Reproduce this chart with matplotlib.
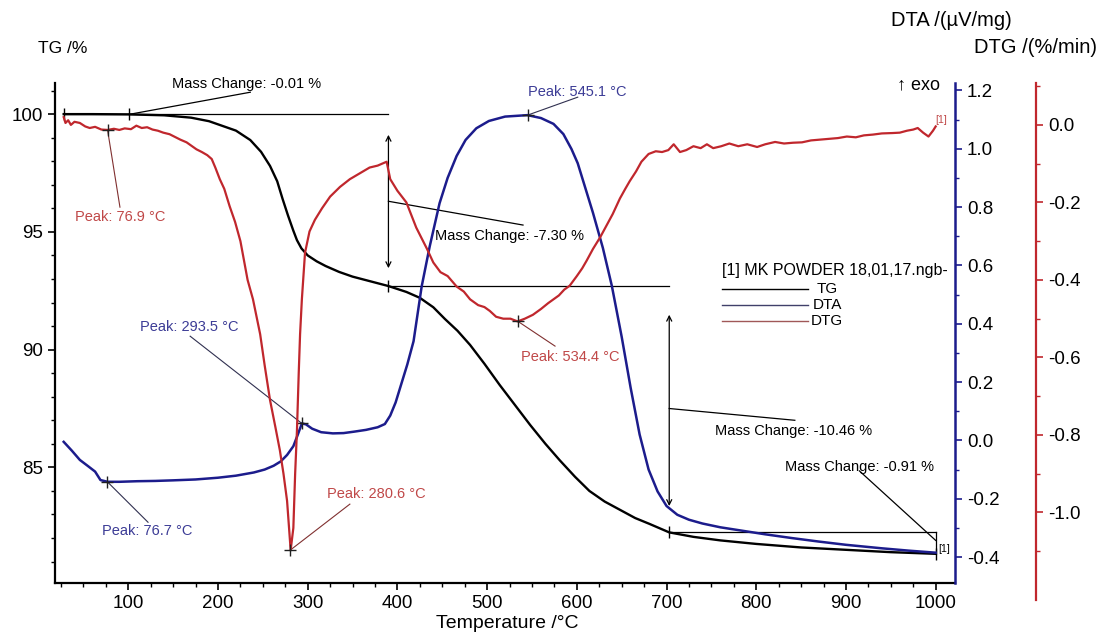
import numpy as np
import matplotlib
matplotlib.use("Agg")
import matplotlib.pyplot as plt
from matplotlib.ticker import MultipleLocator

plt.rcParams['font.family'] = ['Liberation Sans', 'DejaVu Sans']

# TG curve (mass %)
tg_temp = [28, 60, 100, 140, 170, 190, 205, 220, 236, 248, 258, 266, 272, 278, 284, 288, 293,
           300, 310, 320, 335, 350, 370, 390, 410, 425, 440, 453, 467, 481, 497, 514, 531, 548,
           565, 581, 598, 614, 631, 648, 665, 681, 703, 730, 760, 800, 850, 900, 950, 1000]
tg_mass = [100.0, 100.0, 99.99, 99.95, 99.85, 99.7, 99.5, 99.3, 98.9, 98.4, 97.8, 97.15, 96.4,
           95.7, 95.05, 94.65, 94.3, 94.0, 93.75, 93.55, 93.3, 93.1, 92.9, 92.7, 92.45, 92.2, 91.8,
           91.3, 90.8, 90.2, 89.4, 88.5, 87.65, 86.8, 86.0, 85.3, 84.6, 84.0, 83.55, 83.2, 82.85,
           82.6, 82.24, 82.05, 81.9, 81.75, 81.6, 81.5, 81.4, 81.33]

# DTA curve (uV/mg)
dta_temp = [28, 37, 46, 55, 63, 69, 77, 90, 110, 130, 150, 175, 200, 220, 240, 252, 262, 270,
            277, 284, 289, 293.5, 298, 305, 315, 328, 340, 352, 365, 378, 386, 392, 398, 404,
            411, 418, 427, 436, 447, 456, 466, 476, 488, 502, 520, 545, 560, 574, 585, 594, 601,
            607, 618, 629, 639, 650, 660, 670, 680, 690, 700, 712, 725, 740, 760, 785, 810, 840,
            870, 900, 940, 970, 1000]
dta_signal = [-0.005, -0.035, -0.067, -0.088, -0.107, -0.136, -0.142, -0.142, -0.14, -0.139,
              -0.137, -0.134, -0.128, -0.121, -0.11, -0.1, -0.087, -0.072, -0.05, -0.02, 0.02,
              0.058, 0.055, 0.04, 0.028, 0.024, 0.025, 0.03, 0.036, 0.045, 0.056, 0.085, 0.13,
              0.19, 0.26, 0.34, 0.527, 0.665, 0.813, 0.9, 0.975, 1.03, 1.07, 1.095, 1.11, 1.115,
              1.105, 1.085, 1.05, 0.999, 0.95, 0.89, 0.78, 0.66, 0.53, 0.355, 0.18, 0.02, -0.1,
              -0.175, -0.225, -0.255, -0.272, -0.285, -0.298, -0.31, -0.322, -0.335, -0.347,
              -0.358, -0.37, -0.378, -0.385]

# DTG curve (%/min)
dtg_temp = [28, 30, 33, 36, 40, 46, 52, 57, 63, 70, 77, 84, 90, 96, 103, 109, 115, 121, 127, 133,
            139, 146, 152, 158, 165, 171, 176, 182, 188, 193, 197, 202, 207, 213, 219, 225, 233,
            239, 247, 252, 258, 264, 269, 273, 277, 281, 284, 286, 288, 290, 291.5, 293.5, 297,
            302, 308, 316, 325, 336, 347, 358, 369, 378, 388, 392, 400, 410, 421, 433, 440, 448,
            456, 466, 474, 481, 490, 497, 503, 510, 518, 526, 534, 542, 551, 560, 568, 574, 580,
            586, 592, 600, 606, 611, 618, 626, 633, 640, 648, 654, 659, 666, 672, 680, 688, 695,
            702, 708, 715, 722, 730, 738, 745, 752, 761, 770, 780, 790, 801, 810, 821, 831, 841,
            851, 861, 871, 881, 891, 901, 911, 920, 930, 940, 952, 960, 968, 975, 980, 986, 992,
            997, 1000]
dtg_rate = [0.02, 0.005, 0.012, 0.0, 0.008, 0.005, -0.004, -0.008, -0.005, -0.012, -0.013, -0.01,
            -0.013, -0.009, -0.011, -0.002, -0.008, -0.006, -0.012, -0.015, -0.02, -0.024, -0.031,
            -0.038, -0.045, -0.055, -0.063, -0.07, -0.078, -0.088, -0.11, -0.14, -0.165, -0.21,
            -0.25, -0.3, -0.4, -0.45, -0.54, -0.62, -0.71, -0.78, -0.84, -0.9, -0.97, -1.097,
            -1.04, -0.9, -0.79, -0.64, -0.54, -0.45, -0.33, -0.275, -0.245, -0.215, -0.185, -0.16,
            -0.14, -0.125, -0.11, -0.105, -0.095, -0.14, -0.17, -0.2, -0.265, -0.32, -0.355, -0.38,
            -0.39, -0.417, -0.43, -0.45, -0.465, -0.47, -0.48, -0.495, -0.5, -0.5, -0.507, -0.5,
            -0.49, -0.475, -0.46, -0.45, -0.44, -0.425, -0.415, -0.39, -0.37, -0.35, -0.32, -0.29,
            -0.26, -0.23, -0.19, -0.165, -0.145, -0.12, -0.095, -0.075, -0.068, -0.07, -0.065,
            -0.05, -0.07, -0.065, -0.055, -0.06, -0.05, -0.06, -0.055, -0.048, -0.055, -0.05,
            -0.057, -0.05, -0.044, -0.048, -0.046, -0.045, -0.04, -0.038, -0.036, -0.034, -0.03,
            -0.032, -0.027, -0.025, -0.022, -0.021, -0.02, -0.015, -0.012, -0.008, -0.02, -0.03,
            -0.015, -0.004]

dta_peak_temp = [76.7, 293.5, 545.1]
dta_peak_val = [-0.142, 0.058, 1.115]
dtg_peak_temp = [76.9, 280.6, 534.4]
dtg_peak_val = [-0.013, -1.097, -0.507]

# mass-change steps
step_temp = [28, 101, 390, 703, 1000]
step_mass = [100.0, 99.99, 92.70, 82.24, 81.33]
step_labels = ['-0.01', '-7.30', '-10.46', '-0.91']

black = '#000000'
navy = '#1c1c8c'
red = '#c0272d'
blue_txt = '#3c3c96'
red_txt = '#c04848'


def fmt1(v, p):
    if abs(v) < 1e-9:
        v = 0.0
    return f'{v:.1f}'


fig = plt.figure(figsize=(11.01, 6.32), dpi=100)
ax = fig.add_axes([0.04995, 0.0775, 0.8174, 0.7911])
ax2 = ax.twinx()
ax3 = ax.twinx()

ax.set_xlim(18.3, 1021.5)
ax.set_ylim(80.09, 101.32)
ax2.set_ylim(-0.489, 1.225)
ax3.set_ylim(-1.182, 0.108)

ax.plot(tg_temp, tg_mass, color=black, lw=1.7, zorder=3)
ax2.plot(dta_temp, dta_signal, color=navy, lw=1.8, zorder=3)
ax3.plot(dtg_temp, dtg_rate, color=red, lw=1.6, zorder=3)

# spines
for s in ['top', 'right']:
    ax.spines[s].set_visible(False)
for s in ['top', 'left', 'bottom']:
    ax2.spines[s].set_visible(False)
    ax3.spines[s].set_visible(False)
ax.spines['left'].set_linewidth(1.6)
ax.spines['bottom'].set_linewidth(1.6)
ax2.spines['right'].set_color(navy)
ax2.spines['right'].set_linewidth(1.8)
ax3.spines['right'].set_position(('axes', 1.09))
ax3.spines['right'].set_color(red)
ax3.spines['right'].set_linewidth(1.6)
ax3.spines['right'].set_bounds(-1.226, 0.108)

ax.set_xticks(range(100, 1001, 100))
ax.xaxis.set_minor_locator(MultipleLocator(25))
ax.yaxis.set_major_locator(MultipleLocator(5))
ax.yaxis.set_minor_locator(MultipleLocator(1))
ax2.set_yticks(np.round(np.arange(-0.4, 1.21, 0.2), 1))
ax2.yaxis.set_minor_locator(MultipleLocator(0.1))
ax3.set_yticks(np.round(np.arange(-1.0, 0.01, 0.2), 1))
ax3.yaxis.set_minor_locator(MultipleLocator(0.1))
ax2.yaxis.set_major_formatter(plt.FuncFormatter(fmt1))
ax3.yaxis.set_major_formatter(plt.FuncFormatter(fmt1))

for a, c in [(ax, black), (ax2, navy), (ax3, red)]:
    a.tick_params(which='major', direction='out', length=5, width=1.2, color=c,
                  labelsize=13.5, labelcolor='black')
    a.tick_params(which='minor', direction='out', length=3, width=1.0, color=c)
ax.tick_params(axis='x', which='both', color=black)

fig.text(0.0345, 0.924, 'TG /%', fontsize=12.5, ha='left', va='center')
fig.text(0.919, 0.968, 'DTA /(\u00b5V/mg)', fontsize=14.5, ha='right', va='center')
fig.text(0.9964, 0.9256, 'DTG /(%/min)', fontsize=14.5, ha='right', va='center')
fig.text(0.4605, 0.0135, 'Temperature /\u00b0C', fontsize=14, ha='center', va='center')
fig.text(0.8538, 0.8655, '\u2191 exo', fontsize=13, ha='right', va='center')

# mass-change markings on the TG axis
lk = dict(color=black, lw=0.9, zorder=4)
ax.plot([step_temp[0], step_temp[2]], [step_mass[0], step_mass[0]], **lk)
ax.plot([step_temp[2], step_temp[3]], [step_mass[2], step_mass[2]], **lk)
ax.plot([step_temp[3], step_temp[4]], [step_mass[3], step_mass[3]], **lk)
ax.plot([step_temp[4], step_temp[4]], [step_mass[3], step_mass[4]], **lk)
ax.plot(step_temp, step_mass, ls='none', marker='|', ms=9, mew=1.0, color=black, zorder=5)
arr = dict(arrowstyle='<->', color=black, lw=0.9, mutation_scale=9)
ax.annotate('', xy=(step_temp[2], step_mass[0] - 0.76), xytext=(step_temp[2], step_mass[2] + 0.64),
            arrowprops=arr)
ax.annotate('', xy=(step_temp[3], step_mass[2] - 1.1), xytext=(step_temp[3], step_mass[3] + 1.0),
            arrowprops=arr)

fs = 10.5
# -0.01
ax.plot([step_temp[1], 236], [step_mass[1], 100.93], **lk)
ax.text(149, 101.27, f'Mass Change: {step_labels[0]} %', fontsize=fs, va='center', ha='left')
# -7.30
ax.plot([step_temp[2], 540], [96.3, 95.29], **lk)
ax.text(442, 94.82, f'Mass Change: {step_labels[1]} %', fontsize=fs, va='center', ha='left')
# -10.46
ax.plot([step_temp[3], 843], [87.5, 87.0], **lk)
ax.text(754, 86.54, f'Mass Change: {step_labels[2]} %', fontsize=fs, va='center', ha='left')
# -0.91
ax.plot([step_temp[4], 915], [81.9, 84.85], **lk)
ax.text(832, 85.0, f'Mass Change: {step_labels[3]} %', fontsize=fs, va='center', ha='left')
ax.text(1003, 81.55, '[1]', fontsize=7.5, va='center', ha='left')

# DTA peaks
ax2.plot(dta_peak_temp, dta_peak_val, ls='none', marker='+', ms=9, mew=1.0, color='#202020', zorder=5)
dta_text = [(70.7, 82.3), (113, 90.96), (545.5, 100.93)]
dta_lead = [(122, 82.67), (169, 90.57), (601, 100.72)]
for t, v, (tx, ty), (lx, ly) in zip(dta_peak_temp, dta_peak_val, dta_text, dta_lead):
    px, py = ax.transData.inverted().transform(ax2.transData.transform((t, v)))
    ax.plot([px, lx], [py, ly], color='#303050', lw=0.8, zorder=4)
    ax.text(tx, ty, f'Peak: {t:.1f} \u00b0C', fontsize=fs, color=blue_txt, va='center', ha='left')

# DTG peaks
ax3.plot(dtg_peak_temp, dtg_peak_val, ls='none', marker='+', ms=9, mew=1.0, color='#202020', zorder=5)
dtg_text = [(40.5, 95.63), (321.6, 83.86), (537.6, 89.68)]
dtg_lead = [(90.7, 96.05), (347, 83.44), (575.7, 90.15)]
for t, v, (tx, ty), (lx, ly) in zip(dtg_peak_temp, dtg_peak_val, dtg_text, dtg_lead):
    px, py = ax.transData.inverted().transform(ax3.transData.transform((t, v)))
    ax.plot([px, lx], [py, ly], color='#803030', lw=0.8, zorder=4)
    ax.text(tx, ty, f'Peak: {t:.1f} \u00b0C', fontsize=fs, color=red_txt, va='center', ha='left')
ax.text(1000, 99.75, '[1]', fontsize=7.5, color=red_txt, va='center', ha='left')

# legend block
ax.text(761.7, 93.38, '[1] MK POWDER 18,01,17.ngb-', fontsize=11.5, va='center', ha='left',
        clip_on=True)
leg_names = ['TG', 'DTA', 'DTG']
leg_cols = [black, '#40406a', '#a05858']
leg_y = [92.57, 91.89, 91.21]
for name, c, y in zip(leg_names, leg_cols, leg_y):
    ax.plot([761.7, 857.6], [y, y], color=c, lw=1.0, zorder=4)
    ax.text(879, y, name, fontsize=11, va='center', ha='center')

fig.savefig('out.png', dpi=100)
